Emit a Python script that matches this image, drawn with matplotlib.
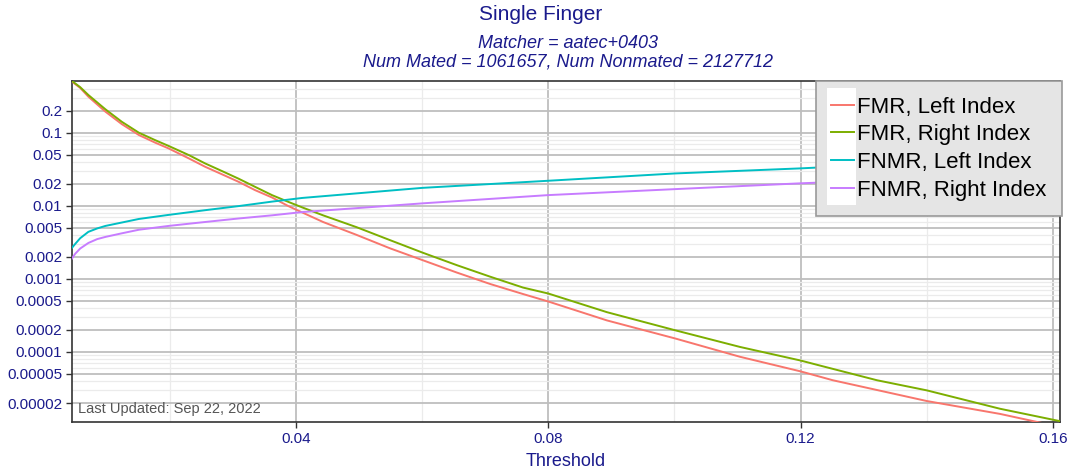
import numpy as np
import matplotlib
matplotlib.use('Agg')
import matplotlib.pyplot as plt
from matplotlib.ticker import LogLocator, NullFormatter
from matplotlib.legend_handler import HandlerLine2D
from matplotlib.patches import Rectangle

plt.rcParams['font.family'] = ['Liberation Sans', 'DejaVu Sans']

navy = '#1a1a8c'

# values (threshold, rate)
fmr_left_x = [0.0045, 0.0058, 0.0071, 0.0098, 0.0124, 0.0151, 0.0177, 0.0198, 0.0230,
              0.0256, 0.0283, 0.0309, 0.0335, 0.0362, 0.0388, 0.0410,
              0.0443, 0.0496, 0.0549, 0.0601, 0.0655, 0.0708, 0.0760, 0.0800, 0.0893,
              0.1001, 0.1104, 0.1200, 0.1251, 0.1400, 0.1516, 0.1575, 0.1611]
fmr_left_y = [0.50, 0.41, 0.311, 0.194, 0.131, 0.093, 0.073, 0.061, 0.0446,
              0.0342, 0.0269, 0.0213, 0.0164, 0.0130, 0.0099, 0.0081,
              0.0060, 0.0040, 0.00262, 0.00180, 0.00122, 0.00085, 0.00062, 0.00049, 0.00027,
              0.000153, 0.0000858, 0.0000542, 0.000041, 0.0000213, 0.0000142, 0.0000110, 0.0000095]

fmr_right_x = [0.0045, 0.0058, 0.0071, 0.0098, 0.0124, 0.0151, 0.0177, 0.0198, 0.0230,
               0.0256, 0.0283, 0.0309, 0.0335, 0.0362, 0.0388, 0.0410,
               0.0443, 0.0496, 0.0549, 0.0601, 0.0655, 0.0708, 0.0760, 0.0800, 0.0893,
               0.1001, 0.1104, 0.1200, 0.1231, 0.1321, 0.1400, 0.1516, 0.1611]
fmr_right_y = [0.51, 0.42, 0.328, 0.209, 0.141, 0.100, 0.079, 0.066, 0.0495,
               0.038, 0.0298, 0.0235, 0.0182, 0.0140, 0.0113, 0.0095,
               0.0074, 0.0051, 0.00339, 0.00228, 0.00154, 0.00107, 0.00076, 0.00063, 0.00035,
               0.000198, 0.000117, 0.0000763, 0.000065, 0.000041, 0.0000298, 0.0000167, 0.0000113]

fnmr_left_x = [0.0045, 0.0050, 0.0058, 0.0071, 0.0085, 0.0098, 0.0124, 0.0151, 0.0198,
               0.0256, 0.0309, 0.0362, 0.0410, 0.0601, 0.0800, 0.1001, 0.1200, 0.1225, 0.1611]
fnmr_left_y = [0.00266, 0.0030, 0.0036, 0.0044, 0.0049, 0.0053, 0.0059, 0.0066, 0.0075,
               0.0087, 0.0099, 0.0114, 0.0128, 0.0176, 0.0220, 0.0277, 0.0325, 0.0333, 0.040]

fnmr_right_x = [0.0045, 0.0050, 0.0058, 0.0071, 0.0085, 0.0098, 0.0124, 0.0151, 0.0198,
                0.0256, 0.0309, 0.0362, 0.0410, 0.0601, 0.0800, 0.1001, 0.1200, 0.1225, 0.1611]
fnmr_right_y = [0.00190, 0.0022, 0.0026, 0.0031, 0.0035, 0.00375, 0.0042, 0.0047, 0.0053,
                0.0060, 0.0067, 0.0074, 0.0082, 0.0108, 0.0140, 0.0169, 0.0203, 0.0207, 0.0245]

labels = ['FMR, Left Index', 'FMR, Right Index', 'FNMR, Left Index', 'FNMR, Right Index']
colors = ['#F8766D', '#7CAE00', '#00BFC4', '#C77CFF']

ytick_vals = [0.2, 0.1, 0.05, 0.02, 0.01, 0.005, 0.002, 0.001, 0.0005, 0.0002, 0.0001, 0.00005, 0.00002]
ytick_labels = ['0.2', '0.1', '0.05', '0.02', '0.01', '0.005', '0.002', '0.001', '0.0005',
                '0.0002', '0.0001', '0.00005', '0.00002']
xtick_vals = [0.04, 0.08, 0.12, 0.16]
xtick_labels = ['0.04', '0.08', '0.12', '0.16']


class WhiteKeyHandler(HandlerLine2D):
    # ggplot-style white key background behind each legend line
    def create_artists(self, legend, orig_handle, xdescent, ydescent, width, height, fontsize, trans):
        arts = list(super().create_artists(legend, orig_handle, xdescent, ydescent,
                                           width, height, fontsize, trans))
        pitch = fontsize * (1.25 + legend.labelspacing)
        cy = -ydescent + height / 2
        rect = Rectangle((-xdescent - 3, cy - pitch / 2), width + 5, pitch,
                         facecolor='white', edgecolor='none', transform=trans)
        return [rect] + arts


fig = plt.figure(figsize=(10.71, 4.70), dpi=100)
ax = fig.add_axes([0.0672, 0.1021, 0.9225, 0.7256])

series = [(fmr_left_x, fmr_left_y), (fmr_right_x, fmr_right_y),
          (fnmr_left_x, fnmr_left_y), (fnmr_right_x, fnmr_right_y)]
handles = []
for (xs, ys), lab, col in zip(series, labels, colors):
    h, = ax.plot(xs, ys, color=col, lw=1.4, label=lab, zorder=3)
    handles.append(h)

ax.set_yscale('log')
ax.set_xlim(0.0045, 0.1611)
ax.set_ylim(1.1e-5, 0.51)
ax.set_yticks(ytick_vals)
ax.set_yticklabels(ytick_labels)
ax.yaxis.set_minor_locator(LogLocator(base=10, subs=(3, 4, 6, 7, 8, 9)))
ax.yaxis.set_minor_formatter(NullFormatter())
ax.set_xticks(xtick_vals)
ax.set_xticklabels(xtick_labels)
ax.set_xticks([0.02, 0.06, 0.10, 0.14], minor=True)

ax.grid(which='major', color='#bebebe', lw=1.3)
ax.grid(which='minor', color='#ebebeb', lw=0.9)
ax.set_axisbelow(True)
ax.tick_params(which='minor', length=0)
ax.tick_params(which='major', length=4, width=1, color='#333333', labelcolor=navy, labelsize=11, pad=3)
for s in ax.spines.values():
    s.set_color('#333333')
    s.set_linewidth(1.2)

ax.set_xlabel('Threshold', color=navy, fontsize=13, labelpad=5)

ax.text(0.006, 0.018, 'Last Updated: Sep 22, 2022', transform=ax.transAxes,
        color='#555555', fontsize=10.5, ha='left', va='bottom')

leg = ax.legend(handles=handles, loc='upper right', bbox_to_anchor=(1.002, 1.0),
                borderaxespad=0, fontsize=16, facecolor='#e5e5e5', edgecolor='#999999',
                framealpha=1, fancybox=False, labelspacing=0.3, handlelength=1.0,
                handletextpad=0.15, borderpad=0.7,
                handler_map={plt.Line2D: WhiteKeyHandler()})
leg.get_frame().set_linewidth(1.2)
leg.set_zorder(5)

fig.text(541 / 1071, 1 - 14 / 470, 'Single Finger', color=navy, fontsize=15, ha='center', va='center')
fig.text(568 / 1071, 1 - 43 / 470, 'Matcher = aatec+0403', color=navy, fontsize=13,
         style='italic', ha='center', va='center')
fig.text(568 / 1071, 1 - 62 / 470, 'Num Mated = 1061657, Num Nonmated = 2127712', color=navy,
         fontsize=13, style='italic', ha='center', va='center')

fig.savefig('out.png', dpi=100)
